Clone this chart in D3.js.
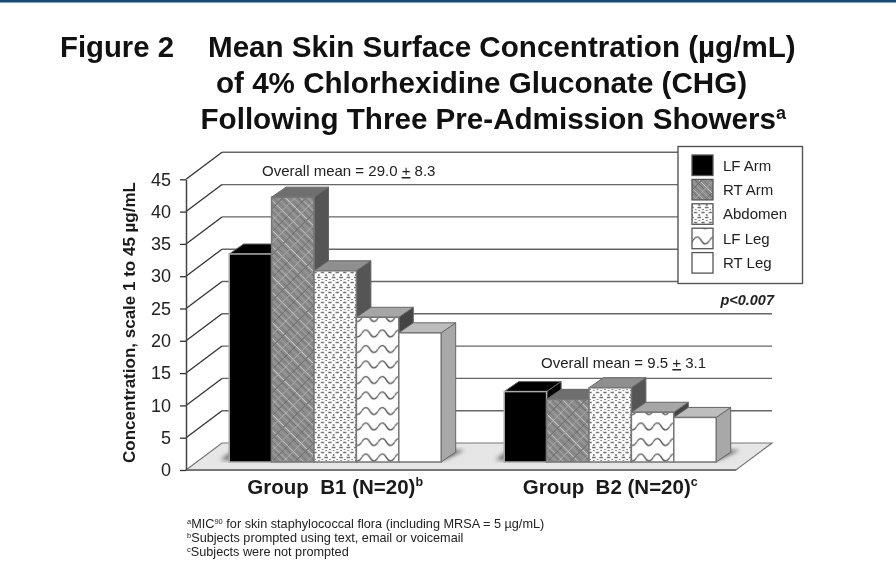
<!DOCTYPE html>
<html>
<head>
<meta charset="utf-8">
<style>
  html, body { margin: 0; padding: 0; background: #fff; }
  svg { display: block; filter: blur(0.45px); }
  text { font-family: "Liberation Sans", Arial, sans-serif; }
</style>
<script src="https://cdn.jsdelivr.net/npm/d3@7"></script>
</head>
<body>
<svg id="chart" width="896" height="574"></svg>
<script>
const groups = ['Group  B1 (N=20)', 'Group  B2 (N=20)'];
const groupMarks = ['b', 'c'];
const seriesNames = ['LF Arm', 'RT Arm', 'Abdomen', 'LF Leg', 'RT Leg'];
const lfArm = [32.2, 10.9];
const rtArm = [41.0, 9.7];
const abdomen = [29.6, 11.5];
const lfLeg = [22.4, 7.7];
const rtLeg = [20.0, 6.9];
const seriesValues = [lfArm, rtArm, abdomen, lfLeg, rtLeg];
const yTicks = [0, 5, 10, 15, 20, 25, 30, 35, 40, 45];
const meanLabels = [['Overall mean = 29.0 ', '+', ' 8.3'], ['Overall mean = 9.5 ', '+', ' 3.1']];
const titleLines = ['Mean Skin Surface Concentration (µg/mL)', 'of 4% Chlorhexidine Gluconate (CHG)', 'Following Three Pre-Admission Showers'];
const footnotes = [
  ['a', 'MIC', '90', ' for skin staphylococcal flora (including MRSA = 5 µg/mL)'],
  ['b', 'Subjects prompted using text, email or voicemail'],
  ['c', 'Subjects were not prompted']
];

// face styles per series: front, top, side
const faces = [
  { front: '#000', top: '#000', side: '#000' },
  { front: 'url(#hatch)', top: '#6f6f6f', side: '#555' },
  { front: 'url(#dots)', top: '#8f8f8f', side: '#555' },
  { front: 'url(#wave)', top: '#a6a6a6', side: '#444' },
  { front: '#fff', top: '#bdbdbd', side: '#a8a8a8' }
];

const svg = d3.select('#chart');

// wall depth and bar depth of the fake 3d box
const wallDx = 36, wallDy = 27;
const barNearDx = 10.7, barNearDy = 8;
const barDx = 14.5, barDy = 10;

const y = d3.scaleLinear().domain([0, 45]).range([470, 179.3]);
const xGroup = d3.scaleBand().domain(groups).range([186, 736]);
const xSeries = d3.scaleBand().domain(seriesNames).range([32.5, 244.5]);

svg.append('rect').attr('width', 896).attr('height', 2.5).attr('fill', '#1d4a73');

// patterns
const defs = svg.append('defs');
const hatch = defs.append('pattern').attr('id', 'hatch').attr('patternUnits', 'userSpaceOnUse')
  .attr('width', 46).attr('height', 46);
hatch.append('rect').attr('width', 46).attr('height', 46).attr('fill', '#8c8c8c');
[[2, '#777', 1], [5, '#a8a8a8', 0.8], [9, '#6e6e6e', 1], [13, '#d0d0d0', 0.9], [17, '#7a7a7a', 1], [21, '#a0a0a0', 0.8],
  [25, '#6a6a6a', 1], [29, '#dcdcdc', 1], [33, '#777', 1], [37, '#a8a8a8', 0.8], [41, '#6e6e6e', 1], [44, '#bcbcbc', 0.8]].forEach(l => {
  hatch.append('path').attr('d', `M${l[0]} 0L${l[0] + 46} 46M${l[0] - 46} 0L${l[0]} 46`)
    .attr('stroke', l[1]).attr('stroke-width', l[2]);
});
[[8, '#666', 0.9], [20, '#b4b4b4', 0.7], [31, '#6a6a6a', 0.9], [42, '#c0c0c0', 0.7]].forEach(l => {
  hatch.append('path').attr('d', `M${l[0]} 0L${l[0] - 46} 46M${l[0] + 46} 0L${l[0]} 46`)
    .attr('stroke', l[1]).attr('stroke-width', l[2]);
});

const dots = defs.append('pattern').attr('id', 'dots').attr('patternUnits', 'userSpaceOnUse')
  .attr('width', 7.4).attr('height', 10);
dots.append('rect').attr('width', 7.4).attr('height', 10).attr('fill', '#fff');
dots.append('path').attr('d', 'M0 2.5H1.6M5.8 2.5H7.4M1.9 7.5H5.5M3.7 0V1M3.7 4V6M0 9V10M7.4 9V10')
  .attr('stroke', '#6e6e6e').attr('stroke-width', 1.5);

const wave = defs.append('pattern').attr('id', 'wave').attr('patternUnits', 'userSpaceOnUse')
  .attr('width', 16.5).attr('height', 15.5);
wave.append('rect').attr('width', 16.5).attr('height', 15.5).attr('fill', '#fff');
wave.append('path').attr('d', 'M0 8Q4.1 1 8.25 8T16.5 8').attr('fill', 'none')
  .attr('stroke', '#555').attr('stroke-width', 1.4);

const floorBlur = defs.append('filter').attr('id', 'soft').attr('x', '-30%').attr('y', '-30%')
  .attr('width', '160%').attr('height', '160%');
floorBlur.append('feGaussianBlur').attr('stdDeviation', 2);

// floor
const xLeft = xGroup.range()[0], xRight = xGroup.range()[1];
svg.append('polygon')
  .attr('points', [[xLeft, y(0)], [xLeft + wallDx, y(0) - wallDy], [xRight + wallDx, y(0) - wallDy], [xRight, y(0)]].join(' '))
  .attr('fill', '#e6e6e6').attr('stroke', '#777').attr('stroke-width', 1.2);
svg.append('line').attr('x1', xLeft).attr('x2', xRight).attr('y1', y(0)).attr('y2', y(0))
  .attr('stroke', '#777').attr('stroke-width', 2);

// back wall gridlines and the slanted lines on the side wall
const wall = svg.append('g');
wall.selectAll('.back').data(yTicks.slice(1)).enter().append('line').attr('class', 'back')
  .attr('x1', xLeft + wallDx).attr('x2', xRight + wallDx)
  .attr('y1', d => y(d) - wallDy).attr('y2', d => y(d) - wallDy)
  .attr('stroke', '#666').attr('stroke-width', 1.4);
wall.selectAll('.slant').data(yTicks.slice(1)).enter().append('line').attr('class', 'slant')
  .attr('x1', xLeft).attr('x2', xLeft + wallDx)
  .attr('y1', d => y(d)).attr('y2', d => y(d) - wallDy)
  .attr('stroke', '#333').attr('stroke-width', 1.3);

// bars
const gGroups = svg.selectAll('.g_group').data(groups).enter().append('g')
  .attr('class', 'g_group')
  .attr('transform', d => 'translate(' + (xGroup(d) + barNearDx) + ',0)');

gGroups.each(function(group, groupIdx) {
  const current = d3.select(this);
  const x0 = xSeries(seriesNames[0]);
  const x1 = xSeries(seriesNames[4]) + xSeries.bandwidth();
  const base = y(0) - barNearDy;

  // soft shadow on the floor
  current.append('polygon')
    .attr('points', [[x0 - 9, base - 2], [x1 + 3, base - 2], [x1 + barDx + 9, base - barDy - 2], [x0 + 5, base - barDy - 2]].join(' '))
    .attr('fill', '#666').attr('filter', 'url(#soft)');

  seriesNames.forEach((name, i) => {
    const value = seriesValues[i][groupIdx];
    const left = xSeries(name);
    const w = xSeries.bandwidth();
    const top = y(value) - barNearDy;
    const face = faces[i];
    const g = current.append('g').attr('class', 'bar bar_' + i);

    g.append('polygon')
      .attr('points', [[left + w, top], [left + w + barDx, top - barDy], [left + w + barDx, base - barDy], [left + w, base]].join(' '))
      .attr('fill', face.side).attr('stroke', '#666').attr('stroke-width', 1);
    g.append('polygon')
      .attr('points', [[left, top], [left + barDx, top - barDy], [left + w + barDx, top - barDy], [left + w, top]].join(' '))
      .attr('fill', face.top).attr('stroke', '#666').attr('stroke-width', 1);
    g.append('rect')
      .attr('x', left).attr('y', top).attr('width', w).attr('height', base - top)
      .attr('fill', face.front).attr('stroke', i === 0 ? '#aaa' : '#777').attr('stroke-width', 1.5);
  });

  // group label
  const label = current.append('text')
    .attr('x', (x0 + x1) / 2).attr('y', 494)
    .attr('text-anchor', 'middle').attr('font-weight', 'bold').attr('font-size', 20.5)
    .attr('fill', '#1a1a1a')
    .style('white-space', 'pre');
  label.append('tspan').text(group);
  label.append('tspan').text(groupMarks[groupIdx]).attr('font-size', 12.5).attr('dy', -8);
});

// y axis
const yAxis = d3.axisLeft(y).tickValues(yTicks).tickSize(6).tickPadding(9).tickSizeOuter(0);
const gAxis = svg.append('g').attr('class', 'g_y_axis')
  .attr('transform', 'translate(' + xLeft + ',0)').call(yAxis);
gAxis.select('.domain').attr('stroke', '#444').attr('stroke-width', 1.5);
gAxis.selectAll('.tick line').attr('stroke', '#333').attr('stroke-width', 1.3);
gAxis.selectAll('.tick text').attr('font-size', 18).attr('fill', '#222')
  .style('font-family', '"Liberation Sans", Arial, sans-serif');

svg.append('text')
  .attr('transform', 'translate(135,322.5) rotate(-90)')
  .attr('text-anchor', 'middle').attr('font-weight', 'bold').attr('font-size', 17)
  .attr('fill', '#1a1a1a')
  .text('Concentration, scale 1 to 45 µg/mL');

// title
svg.append('text').attr('x', 60).attr('y', 57).attr('font-weight', 'bold').attr('font-size', 29.3)
  .attr('fill', '#111').text('Figure 2');
[[208, 57], [216, 93], [200.5, 129]].forEach((pos, i) => {
  const t = svg.append('text').attr('x', pos[0]).attr('y', pos[1])
    .attr('font-weight', 'bold').attr('font-size', 29.6).attr('fill', '#111');
  t.append('tspan').text(titleLines[i]);
  if (i === 2) t.append('tspan').text('a').attr('font-size', 18).attr('dy', -10);
});

// overall mean notes
[[262, 176], [541, 368]].forEach((pos, i) => {
  const t = svg.append('text').attr('x', pos[0]).attr('y', pos[1])
    .attr('font-size', 15).attr('fill', '#222').style('white-space', 'pre');
  t.append('tspan').text(meanLabels[i][0]);
  t.append('tspan').text(meanLabels[i][1]).attr('text-decoration', 'underline');
  t.append('tspan').text(meanLabels[i][2]);
});

svg.append('text').attr('x', 774).attr('y', 305).attr('text-anchor', 'end')
  .attr('font-weight', 'bold').attr('font-style', 'italic').attr('font-size', 14.5)
  .attr('fill', '#222').text('p<0.007');

// legend
const legend = svg.append('g').attr('class', 'g_legend');
legend.append('rect').attr('x', 678).attr('y', 146.5).attr('width', 124.5).attr('height', 137)
  .attr('fill', '#fff').attr('stroke', '#555').attr('stroke-width', 1.4);
const yLegend = d3.scaleBand().domain(seriesNames).range([153.5, 275.5]);
seriesNames.forEach((name, i) => {
  legend.append('rect').attr('x', 692).attr('y', yLegend(name) + 1.5).attr('width', 21).attr('height', 20.5)
    .attr('fill', faces[i].front).attr('stroke', '#555').attr('stroke-width', 1.3);
  legend.append('text').attr('x', 723).attr('y', yLegend(name) + 17)
    .attr('font-size', 15).attr('fill', '#222').text(name);
});

// footnotes
const yNote = d3.scalePoint().domain(d3.range(footnotes.length)).range([527.5, 555.5]);
footnotes.forEach((note, i) => {
  const t = svg.append('text').attr('x', 187).attr('y', yNote(i))
    .attr('font-size', 12.7).attr('fill', '#222');
  note.forEach((part, j) => {
    const sup = note.length === 4 ? (j === 0 || j === 2) : j === 0;
    const span = t.append('tspan').text(part);
    if (sup) span.attr('font-size', 7.5).attr('dy', -4);
    else if (j > 0) span.attr('dy', 4);
  });
});
</script>
</body>
</html>
